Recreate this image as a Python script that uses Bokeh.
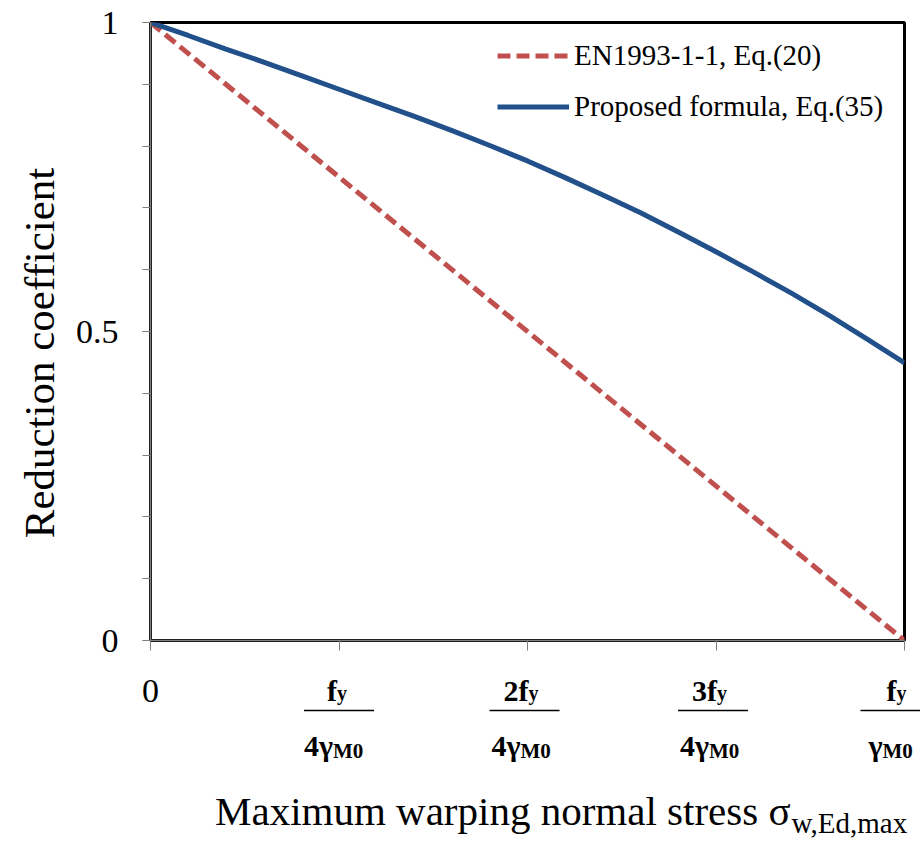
from bokeh.plotting import figure
from bokeh.layouts import column
from bokeh.models import (Range1d, FixedTicker, Legend, LegendItem,
                          ColumnDataSource, CustomJSTickFormatter)
from bokeh.core.properties import value
from bokeh.embed import file_html
from bokeh.resources import INLINE

# ---------------- data ----------------
stress_en = [0.0, 1.0]
coef_en = [1.0, 0.0]

stress_prop = [0.00, 0.05, 0.10, 0.15, 0.20, 0.25, 0.30, 0.35, 0.40, 0.45, 0.50,
               0.55, 0.60, 0.65, 0.70, 0.75, 0.80, 0.85, 0.90, 0.95, 1.00]
coef_prop = [1.000, 0.979, 0.957, 0.936, 0.914, 0.892, 0.870, 0.848, 0.825, 0.801, 0.776,
             0.749, 0.721, 0.692, 0.661, 0.629, 0.596, 0.562, 0.526, 0.488, 0.449]

x_ticks = [0.0, 0.25, 0.5, 0.75, 1.0]
frac_ticks = [0.25, 0.5, 0.75, 1.0]
num_main = ["f", "2f", "3f", "f"]
num_sub = ["y", "y", "y", "y"]
den_main = ["4γ", "4γ", "4γ", "γ"]
den_sub = ["M0", "M0", "M0", "M0"]
zero_label = ["0"]

y_ticks = [0.0, 0.5, 1.0]
y_minor = [0.0, 0.1, 0.2, 0.3, 0.4, 0.5, 0.6, 0.7, 0.8, 0.9, 1.0]

x_title = "Maximum warping normal stress σ"
x_title_sub = "w,Ed,max"
y_title = "Reduction coefficient\u00a0\u00a0\u00a0\u00a0"
legend_labels = ["EN1993-1-1, Eq.(20)", "Proposed formula, Eq.(35)"]

# ---------------- style / layout ----------------
SERIF = "Liberation Serif"
RED = "#C0504D"
BLUE = "#21508A"

W = 920
ML, MR, MT, MB = 150, 16, 22, 20
FW = W - ML - MR
H1 = 660
H2 = 178

p = figure(width=W, height=H1, output_backend="svg", toolbar_location=None,
           x_range=Range1d(0, 1), y_range=Range1d(0, 1),
           min_border_left=ML, min_border_right=MR, min_border_top=MT,
           min_border_bottom=MB)
p.frame_align = False
p.grid.visible = False
p.background_fill_color = "white"
p.border_fill_color = "white"
p.outline_line_color = "black"
p.outline_line_width = 3
p.outline_line_alpha = 1

r_en = p.line(stress_en, coef_en, line_color=RED, line_width=5, line_dash="13 6")
r_pr = p.line(stress_prop, coef_prop, line_color=BLUE, line_width=5)

# y axis
ya = p.yaxis[0]
ya.ticker = FixedTicker(ticks=y_ticks, minor_ticks=y_minor)
ya.major_label_text_font = SERIF
ya.major_label_text_font_size = "34px"
ya.major_label_text_color = "black"
ya.major_label_standoff = 24
ya.major_tick_out = 8
ya.major_tick_in = 0
ya.minor_tick_out = 8
ya.minor_tick_in = 0
ya.major_tick_line_color = "#808080"
ya.minor_tick_line_color = "#808080"
ya.axis_line_color = "#808080"
ya.axis_line_width = 1.5
ya.axis_label = y_title
ya.axis_label_text_font = SERIF
ya.axis_label_text_font_size = "43px"
ya.axis_label_text_font_style = "normal"
ya.axis_label_text_color = "black"
ya.axis_label_standoff = 10

# x axis (ticks only; labels drawn below)
xa = p.xaxis[0]
xa.ticker = FixedTicker(ticks=x_ticks, minor_ticks=[])
xa.formatter = CustomJSTickFormatter(code="return '';")
xa.major_label_text_font_size = "1px"
xa.major_label_standoff = 0
xa.major_tick_out = 10
xa.major_tick_in = 0
xa.major_tick_line_color = "#808080"
xa.axis_line_color = "#808080"
xa.axis_line_width = 1.5

# legend
legend = Legend(items=[LegendItem(label=legend_labels[0], renderers=[r_en]),
                       LegendItem(label=legend_labels[1], renderers=[r_pr])],
                location=(347, 508), orientation="vertical",
                padding=0, margin=0, spacing=0,
                glyph_width=72, glyph_height=51, label_height=51,
                label_standoff=5,
                label_text_font=SERIF, label_text_font_size="29px",
                label_text_color="black",
                background_fill_alpha=0, border_line_color=None)
p.add_layout(legend, "center")

# ---------------- lower strip: fraction tick labels and x title ----------------
p2 = figure(width=W, height=H2, output_backend="svg", toolbar_location=None,
            x_range=Range1d(-ML / FW, 1 + MR / FW), y_range=Range1d(-H2, 0),
            min_border_left=0, min_border_right=0, min_border_top=0,
            min_border_bottom=0)
p2.frame_align = False
p2.axis.visible = False
p2.grid.visible = False
p2.outline_line_color = None
p2.background_fill_color = "white"
p2.border_fill_color = "white"

num_off = [-2, 1, 1, -8]
den_off = [-6, -7, -7, -22]
bar_shift = [0, -3, -3, -14]
bar_half = [35, 35, 35, 30]

src = ColumnDataSource(dict(
    x=frac_ticks, num_main=num_main, num_sub=num_sub, den_main=den_main,
    den_sub=den_sub, no=num_off, do=den_off,
    ny=[-30] * 4, nsy=[-32] * 4, dy=[-85] * 4, dsy=[-90] * 4,
    bx=[t + s / FW for t, s in zip(frac_ticks, bar_shift)],
    bw=[2 * h for h in bar_half], by=[-50] * 4))

bold = dict(source=src, text_font=value(SERIF), text_font_style="bold",
            text_color="black", text_baseline="alphabetic")
p2.text(x="x", y="ny", text="num_main", x_offset="no", text_align="right",
        text_font_size=value("30px"), **bold)
p2.text(x="x", y="nsy", text="num_sub", x_offset="no", text_align="left",
        text_font_size=value("20px"), **bold)
p2.text(x="x", y="dy", text="den_main", x_offset="do", text_align="right",
        text_font_size=value("30px"), **bold)
p2.text(x="x", y="dsy", text="den_sub", x_offset="do", text_align="left",
        text_font_size=value("21px"), **bold)
p2.rect(x="bx", y="by", width="bw", height=1.6, width_units="screen",
        height_units="screen", source=src, fill_color="black", line_color=None)

# "0" tick label
p2.text(x=[x_ticks[0]], y=[-30], text=zero_label, text_align="center",
        text_baseline="alphabetic", text_font=value(SERIF),
        text_font_size=value("34px"), text_color="black")

# x axis title
title_x = 640 / FW
p2.text(x=[title_x], y=[-150], text=[x_title], text_align="right",
        text_baseline="alphabetic", text_font=value(SERIF),
        text_font_size=value("41px"), text_color="black")
p2.text(x=[title_x], y=[-162], text=[x_title_sub], x_offset=1, text_align="left",
        text_baseline="alphabetic", text_font=value(SERIF),
        text_font_size=value("29px"), text_color="black")

layout = column(p, p2, spacing=0)
open("out.html", "w").write(file_html(layout, INLINE))
